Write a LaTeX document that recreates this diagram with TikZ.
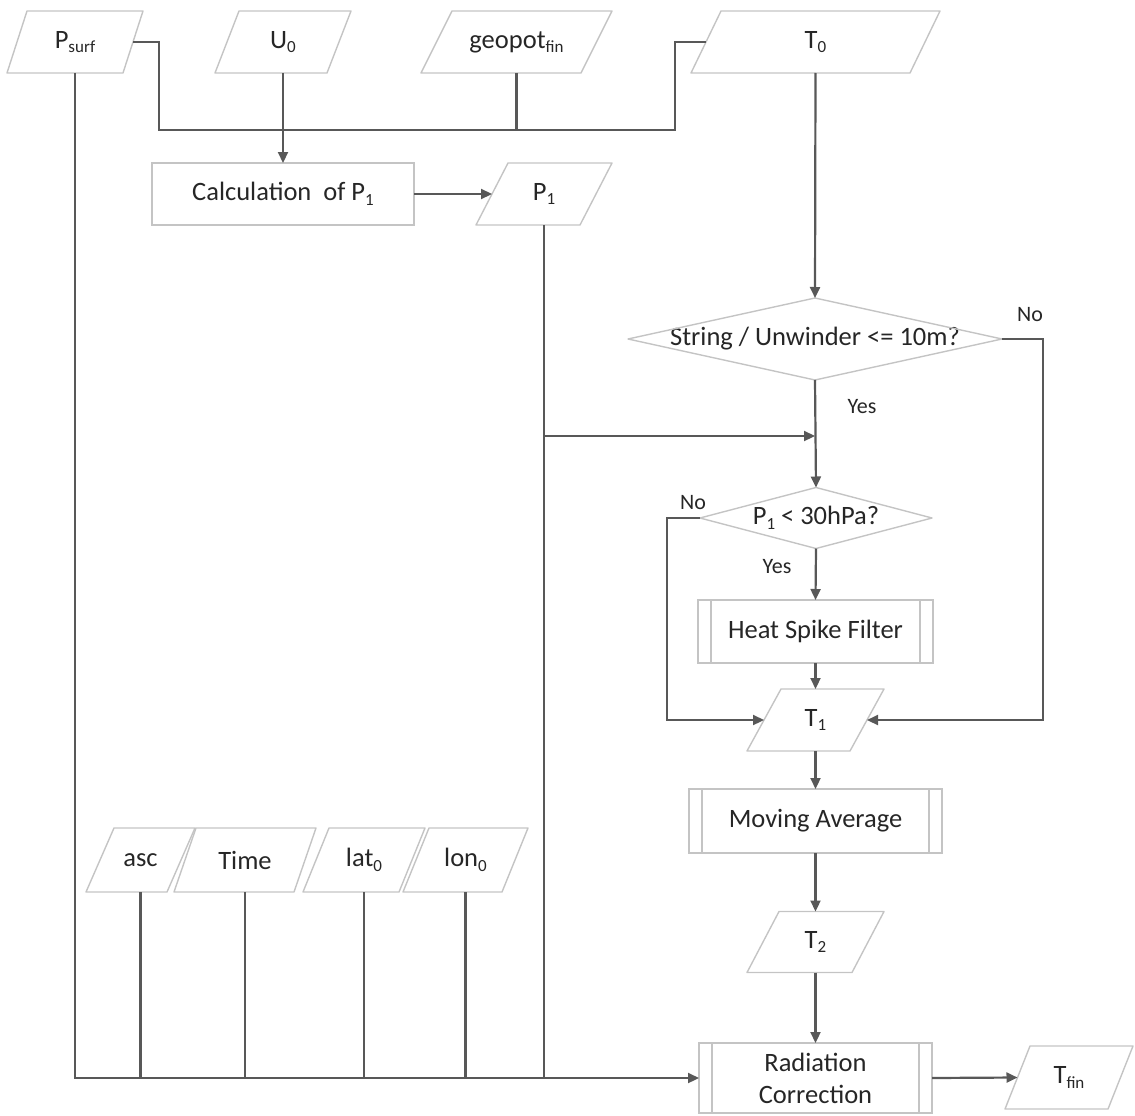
\documentclass[tikz,border=0pt]{standalone}
\usepackage{fontspec}
\setmainfont{Carlito}
\usetikzlibrary{arrows.meta}
\definecolor{connc}{HTML}{585858}
\definecolor{shp}{HTML}{C4C4C4}
\definecolor{txt}{HTML}{262626}
\newcommand\lowsub[1]{\raisebox{-0.35ex}{\fontsize{17}{17}\selectfont #1}}
\begin{document}
\begin{tikzpicture}[x=1pt,y=-1pt,
  every node/.style={font=\fontsize{26.5}{30}\selectfont, text=txt},
  base/.style={inner sep=0pt, outer sep=0pt, rectangle},
  para/.style={base, minimum height=62pt},
  box/.style={base, draw=shp, line width=1.4pt},
  predef/.style={box, path picture={\draw[shp, line width=1.4pt]
     ([xshift=13pt]path picture bounding box.north west) -- ([xshift=13pt]path picture bounding box.south west)
     ([xshift=-13pt]path picture bounding box.north east) -- ([xshift=-13pt]path picture bounding box.south east);}},
  outline/.style={draw=shp, line width=1.4pt, line join=round},
  conn/.style={draw=connc, line width=2.2pt},
  arr/.style={conn, -{Triangle[length=11pt,width=10pt]}},
  lab/.style={font=\fontsize{22}{26}\selectfont}
]
\useasboundingbox (0,0) rectangle (1135,1116);

% top row
\node[para, minimum width=136pt] (ps) at (75,42) {P\lowsub{surf}};
\node[para, minimum width=136pt] (u0) at (283,42) {U\lowsub{0}};
\node[para, minimum width=191pt] (geo) at (516.5,42) {geopot\lowsub{fin}};
\node[para, minimum width=249pt] (t0) at (815.5,42) {T\lowsub{0}};

\node[box, minimum width=262pt, minimum height=62pt] (calc) at (283,194) {Calculation\ \ of P\lowsub{1}};
\node[para, minimum width=136pt] (p1) at (544,194) {P\lowsub{1}};

\node[base, minimum width=374pt, minimum height=82pt] (d1) at (815,339) {String / Unwinder <= 10m?};
\node[base, minimum width=232pt, minimum height=61pt] (d2) at (816,518) {P\lowsub{1} < 30hPa?};
\node[predef, minimum width=235pt, minimum height=63pt] (heat) at (815.5,631.5) {Heat Spike Filter};
\node[para, minimum width=137pt] (t1) at (815.5,720) {T\lowsub{1}};
\node[predef, minimum width=253pt, minimum height=64pt] (mov) at (815.5,821) {Moving Average};
\node[para, minimum width=137pt, minimum height=61pt] (t2) at (815.5,942) {T\lowsub{2}};
\node[predef, minimum width=233pt, minimum height=70pt, align=center, font=\fontsize{26.5}{32}\selectfont] (rad) at (815.5,1078) {Radiation\\Correction};
\node[para, minimum width=128pt, minimum height=63pt] (tfin) at (1069,1077.5) {T\lowsub{fin}};

% bottom row
\node[para, minimum width=109pt, minimum height=64pt] (asc) at (140.5,860) {asc};
\node[para, minimum width=142pt, minimum height=64pt] (time) at (245,860) {Time};
\node[para, minimum width=122pt, minimum height=64pt] (lat) at (364,860) {lat\lowsub{0}};
\node[para, minimum width=125pt, minimum height=64pt] (lon) at (465.5,860) {lon\lowsub{0}};

% outlines
\foreach \n/\s in {ps/20,u0/24,geo/31,t0/30,p1/32,t1/34,t2/32,tfin/25,asc/28,time/22,lat/26,lon/26}
  \draw[outline] ([xshift=\s pt]\n.north west) -- (\n.north east) -- ([xshift=-\s pt]\n.south east) -- (\n.south west) -- cycle;
\foreach \n in {d1,d2}
  \draw[outline] (\n.north) -- (\n.east) -- (\n.south) -- (\n.west) -- cycle;

% labels
\node[lab] (no1) at (1030,315) {No};
\node[lab] (yes1) at (862,407) {Yes};
\node[lab] (no2) at (693,503) {No};
\node[lab] (yes2) at (777,567) {Yes};

% helper coordinates
\coordinate (busL) at (159,130);
\coordinate (busR) at (675,130);
\coordinate (noR) at (1043,339);
\coordinate (noL) at (667,518);
\coordinate (junc) at (544,436);

% connectors
\draw[conn] ([xshift=-10pt]ps.east) -| (busL) -- (busR) |- ([xshift=15pt]t0.west);
\draw[conn] (geo.south) -- (geo.south |- busL);
\draw[arr] (u0.south) -- (calc.north);
\draw[arr] (calc.east) -- ([xshift=16pt]p1.west);
\draw[conn] (p1.south) -- (p1.south |- rad.west);
\draw[arr] (junc) -- (junc -| d1.north);
\draw[arr] (t0.south) -- (d1.north);
\draw[arr] (d1.south) -- (d2.north);
\draw[arr] (d1.east) -- (noR) |- ([xshift=-17pt]t1.east);
\draw[arr] (d2.west) -- (noL) |- ([xshift=17pt]t1.west);
\draw[arr] (d2.south) -- (heat.north);
\draw[arr] (heat.south) -- (t1.north);
\draw[arr] (t1.south) -- (mov.north);
\draw[arr] (mov.south) -- (t2.north);
\draw[arr] (t2.south) -- (rad.north);
\draw[arr] (rad.east) -- ([xshift=12.5pt]tfin.west);
\draw[arr] (ps.south) |- (rad.west);
\foreach \n in {asc,time,lat,lon}
  \draw[conn] (\n.south) -- (\n.south |- rad.west);
\end{tikzpicture}
\end{document}
